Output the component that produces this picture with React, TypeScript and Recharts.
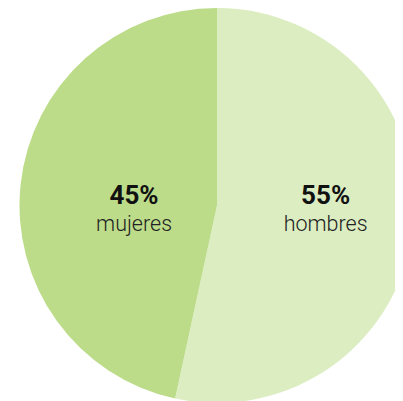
import { PieChart, Pie, Cell } from 'recharts'

const groups = ['hombres', 'mujeres']
const sliceValues = [53.4, 46.6]
// percentages as printed on the chart
const printedShares = ['55%', '45%']
const colors = ['#dcedc1', '#bcdc8a']

const data = groups.map((name, i) => ({ name, value: sliceValues[i] }))

const RADIAN = Math.PI / 180

function SliceLabel(props: any) {
  const { cx, cy, midAngle, outerRadius, index } = props
  // labels sit on the horizontal through the centre, pushed sideways
  const factor = index === 0 ? 0.55 : 0.42
  const dir = Math.cos(-midAngle * RADIAN) >= 0 ? 1 : -1
  const x = cx + dir * outerRadius * factor
  const y = cy
  return (
    <g>
      <text
        x={x}
        y={y - 2}
        textAnchor="middle"
        fill="#111"
        style={{ fontFamily: 'Roboto', fontSize: 26, fontWeight: 700 }}
      >
        {printedShares[index]}
      </text>
      <text
        x={x}
        y={y + 25}
        textAnchor="middle"
        fill="#222"
        style={{ fontFamily: 'Roboto', fontSize: 21.5, fontWeight: 300 }}
      >
        {groups[index]}
      </text>
    </g>
  )
}

export default function App() {
  return (
    <div style={{ width: 395, height: 393, background: '#fff' }}>
      <PieChart width={395} height={393} margin={{ top: 0, right: 0, bottom: 0, left: 0 }}>
        <Pie
          data={data}
          dataKey="value"
          nameKey="name"
          cx={209}
          cy={197.5}
          outerRadius={197.5}
          startAngle={90}
          endAngle={-270}
          stroke="none"
          label={SliceLabel}
          labelLine={false}
          isAnimationActive={false}
        >
          {data.map((d, i) => (
            <Cell key={d.name} fill={colors[i]} />
          ))}
        </Pie>
      </PieChart>
    </div>
  )
}
